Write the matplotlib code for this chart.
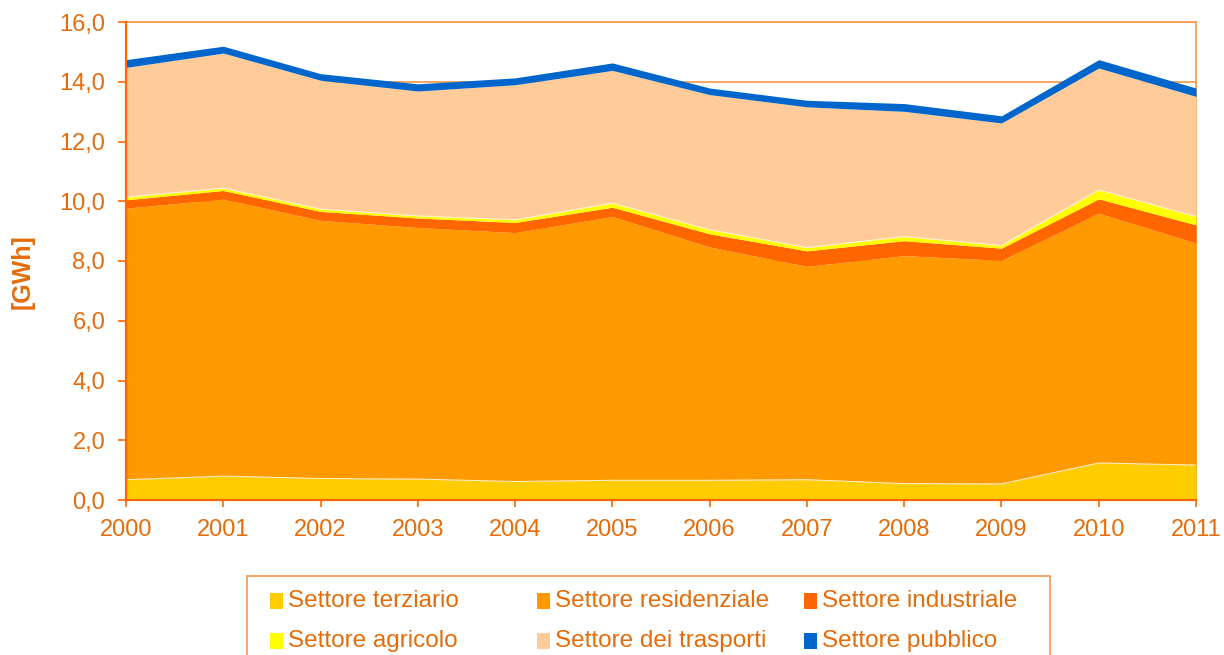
import matplotlib
matplotlib.use("Agg")
import matplotlib.pyplot as plt
from matplotlib.patches import Rectangle
import numpy as np

plt.rcParams['font.family'] = ['Liberation Sans', 'DejaVu Sans']

anni = [2000, 2001, 2002, 2003, 2004, 2005, 2006, 2007, 2008, 2009, 2010, 2011]

# consumi in GWh
terziario = [0.68, 0.80, 0.72, 0.70, 0.62, 0.66, 0.66, 0.68, 0.55, 0.54, 1.24, 1.17]
residenziale = [9.09, 9.27, 8.64, 8.42, 8.33, 8.83, 7.81, 7.14, 7.63, 7.48, 8.36, 7.43]
industriale = [0.28, 0.29, 0.30, 0.32, 0.34, 0.31, 0.44, 0.52, 0.50, 0.41, 0.48, 0.61]
agricolo = [0.09, 0.08, 0.08, 0.07, 0.09, 0.14, 0.14, 0.11, 0.14, 0.09, 0.30, 0.28]
trasporti = [4.34, 4.52, 4.31, 4.18, 4.52, 4.44, 4.52, 4.71, 4.19, 4.10, 4.08, 4.02]
pubblico = [0.26, 0.23, 0.22, 0.24, 0.23, 0.25, 0.22, 0.22, 0.26, 0.24, 0.28, 0.28]

etichette = ["Settore terziario", "Settore residenziale", "Settore industriale",
             "Settore agricolo", "Settore dei trasporti", "Settore pubblico"]
colori = ['#FFCC00', '#FF9900', '#FF6600', '#FFFF00', '#FFCC99', '#0066CC']

y_ticks = [0, 2, 4, 6, 8, 10, 12, 14, 16]

testo = '#E46C0A'
asse = '#FF6600'
chiaro = '#F79646'
fs = 17

fig = plt.figure(figsize=(12.24, 6.55), dpi=100)
ax = fig.add_axes([126/1224, 1-500/655, 1070/1224, 478/655])

serie = [terziario, residenziale, industriale, agricolo, trasporti, pubblico]
base = np.zeros(len(anni))
for i in range(len(serie)):
	top = base + np.array(serie[i])
	ax.fill_between(anni, base, top, color=colori[i], linewidth=0, zorder=3)
	if i == 0 or i == 3:
		ax.plot(anni, top, color='#FFF6CC', linewidth=0.7, zorder=3.1)
	base = top

ax.set_xlim(2000, 2011)
ax.set_ylim(0, 16)
ax.set_xticks(anni)
ax.set_xticklabels([str(a) for a in anni])
ax.set_yticks(y_ticks)
ax.set_yticklabels([("%.1f" % v).replace('.', ',') for v in y_ticks])

ax.grid(axis='y', color=chiaro, linewidth=1.2, zorder=0)
ax.set_axisbelow(True)

for s in ['top', 'right']:
	ax.spines[s].set_color(chiaro)
	ax.spines[s].set_linewidth(1.2)
	ax.spines[s].set_zorder(0.5)
for s in ['left', 'bottom']:
	ax.spines[s].set_color(asse)
	ax.spines[s].set_linewidth(1.6)
	ax.spines[s].set_zorder(5)

ax.tick_params(axis='y', colors=asse, labelcolor=testo, labelsize=fs, length=6, width=1.2, pad=9, direction='out')
ax.tick_params(axis='x', colors=asse, labelcolor=testo, labelsize=fs, length=5, width=1.2, pad=9, direction='out')

fig.text(23/1224, 1-272/655, "[GWh]", rotation=90, color=testo, fontsize=18,
	fontweight='bold', ha='center', va='center')

# legenda disegnata a mano
fig.add_artist(Rectangle((247/1224, -0.05), 803/1224, 1-576/655+0.05,
	transform=fig.transFigure, facecolor='white', edgecolor=chiaro, linewidth=1.2))
for i in range(len(etichette)):
	col = i % 3
	riga = i // 3
	x = 270/1224 + col * 267/1224
	y = 1 - (601 + riga * 40)/655
	fig.add_artist(Rectangle((x, y - 8/655), 13/1224, 16/655,
		transform=fig.transFigure, facecolor=colori[i], edgecolor='none'))
	fig.text(x + 18/1224, y, etichette[i], color=testo, fontsize=17.5, ha='left', va='center')

fig.savefig('out.png', dpi=100)
plt.close()
